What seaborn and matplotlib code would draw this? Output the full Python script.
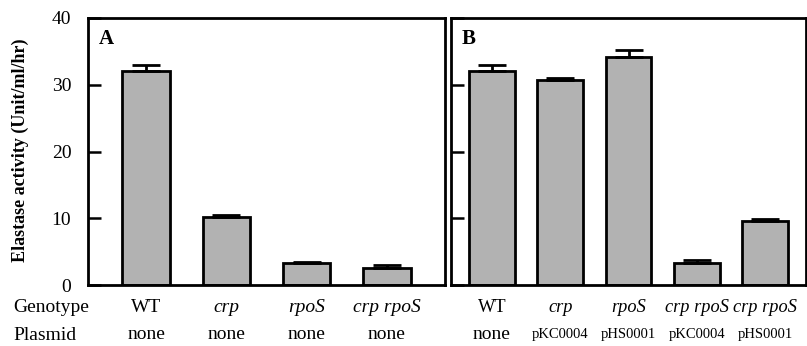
import matplotlib
matplotlib.use('Agg')
import matplotlib.pyplot as plt
import matplotlib.transforms as mtransforms
import pandas as pd
import seaborn as sns

sns.set_style('ticks', {'axes.edgecolor': 'black', 'text.color': 'black',
                        'xtick.color': 'black', 'ytick.color': 'black',
                        'axes.labelcolor': 'black'})
plt.rcParams['font.family'] = ['Liberation Serif', 'DejaVu Serif']

# Panel A: mutants without plasmid
genotype_a = ['WT', 'crp', 'rpoS', 'crp rpoS']
plasmid_a = ['none', 'none', 'none', 'none']
activity_a = [32.0, 10.2, 3.3, 2.5]
error_a = [0.9, 0.3, 0.1, 0.5]

# Panel B: complementation
genotype_b = ['WT', 'crp', 'rpoS', 'crp rpoS', 'crp rpoS']
plasmid_b = ['none', 'pKC0004', 'pHS0001', 'pKC0004', 'pHS0001']
activity_b = [32.0, 30.7, 34.2, 3.3, 9.6]
error_b = [0.9, 0.3, 1.0, 0.4, 0.3]

bar_color = '#b2b2b2'


def draw_panel(ax, genos, plasmids, vals, errs, width, letter, pad, small_plasmid, geno_fs):
    keys = [f'{g}|{p}|{i}' for i, (g, p) in enumerate(zip(genos, plasmids))]
    df = pd.DataFrame({'key': keys, 'activity': vals})
    sns.barplot(data=df, x='key', y='activity', order=keys, color=bar_color,
                width=width, edgecolor='black', linewidth=2.0, saturation=1,
                errorbar=None, ax=ax)
    pos = list(range(len(keys)))
    ax.errorbar(pos, vals, yerr=[[0] * len(errs), errs], fmt='none',
                ecolor='black', elinewidth=2.0, capsize=10, capthick=2.0, zorder=5)
    ax.set_xlim(-pad, len(keys) - 1 + pad)
    ax.set_ylim(0, 40)
    ax.set_yticks([0, 10, 20, 30, 40])
    ax.set_xticks([])
    ax.set_xlabel('')
    ax.set_ylabel('')
    for s in ax.spines.values():
        s.set_visible(True)
        s.set_linewidth(2.0)
        s.set_color('black')
    ax.tick_params(axis='y', direction='in', length=9, width=1.8, labelsize=14,
                   pad=12, colors='black')
    ax.text(0.03, 0.92, letter, transform=ax.transAxes, fontsize=15,
            fontweight='bold', va='center', ha='left', color='black')

    trans = mtransforms.blended_transform_factory(ax.transData, ax.transAxes)
    for i, (g, p) in enumerate(zip(genos, plasmids)):
        style = 'normal' if g == 'WT' else 'italic'
        ax.text(i, -0.083, g, transform=trans, ha='center', va='center',
                fontsize=geno_fs, style=style, clip_on=False, color='black')
        fs = 10.5 if (small_plasmid and p != 'none') else 14
        ax.text(i, -0.185, p, transform=trans, ha='center', va='center',
                fontsize=fs, clip_on=False, color='black')


fig = plt.figure(figsize=(8.07, 3.46), dpi=100)
ax_a = fig.add_axes([88 / 807, 1 - 285 / 346, 357 / 807, 267 / 346])
ax_b = fig.add_axes([451 / 807, 1 - 285 / 346, 355 / 807, 267 / 346])

draw_panel(ax_a, genotype_a, plasmid_a, activity_a, error_a, 0.59, 'A', 0.725, False, 14)
draw_panel(ax_b, genotype_b, plasmid_b, activity_b, error_b, 0.67, 'B', 0.6, True, 13.2)
ax_b.set_yticklabels([])

fig.text(13 / 807, 1 - 307 / 346, 'Genotype', fontsize=14, ha='left', va='center', color='black')
fig.text(13 / 807, 1 - 335 / 346, 'Plasmid', fontsize=14, ha='left', va='center', color='black')
fig.text(20 / 807, 1 - 150 / 346, 'Elastase activity (Unit/ml/hr)', rotation=90,
         fontsize=13, fontweight='bold', ha='center', va='center', color='black')

fig.savefig('out.png', dpi=100)
